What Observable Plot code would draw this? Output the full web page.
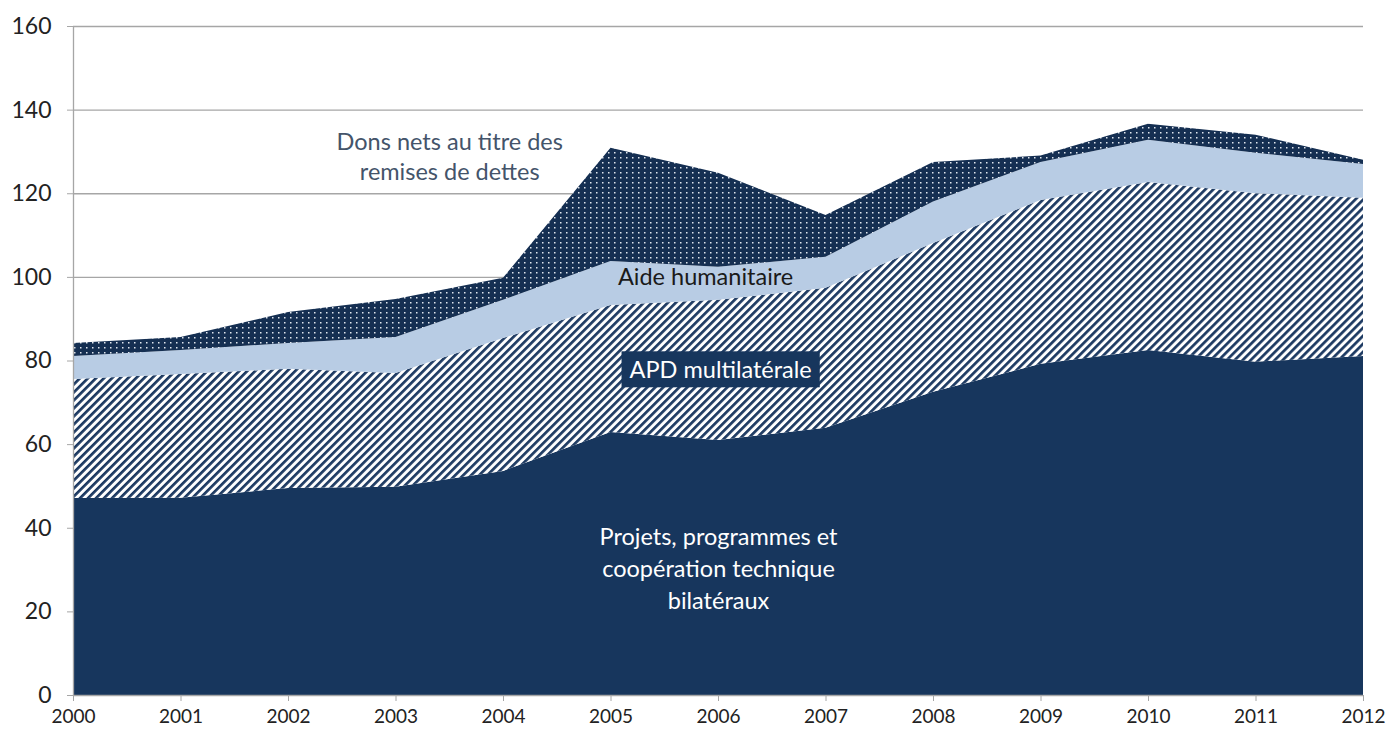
<!DOCTYPE html>
<html>
<head>
<meta charset="utf-8">
<script src="https://cdn.jsdelivr.net/npm/d3@7"></script>
<script src="https://cdn.jsdelivr.net/npm/@observablehq/plot@0.6"></script>
<style>
  html, body { margin: 0; padding: 0; background: #fff; }
  #chart svg { font-family: Lato, "Open Sans", "DejaVu Sans", sans-serif; }
</style>
</head>
<body>
<div id="chart"></div>
<script>
// ---- Data ----
const years = [2000, 2001, 2002, 2003, 2004, 2005, 2006, 2007, 2008, 2009, 2010, 2011, 2012];
const seriesNames = [
  "Projets, programmes et coopération technique bilatéraux",
  "APD multilatérale",
  "Aide humanitaire",
  "Dons nets au titre des remises de dettes"
];
const bilateral    = [47.1, 47.2, 49.5, 49.8, 53.6, 62.9, 61.0, 63.9, 72.5, 79.2, 82.5, 79.7, 81.1];
const multilateral = [28.5, 29.6, 28.5, 27.2, 31.8, 30.4, 33.5, 33.5, 35.6, 39.2, 40.2, 40.3, 37.8];
const humanitarian = [5.5, 5.7, 6.2, 8.6, 9.1, 10.5, 7.9, 7.4, 9.9, 9.1, 10.1, 9.7, 8.1];
const debtRelief   = [3.1, 3.1, 7.4, 9.1, 5.3, 27.1, 22.5, 10.0, 9.5, 1.5, 3.8, 4.3, 1.0];
const yTicks = [0, 20, 40, 60, 80, 100, 120, 140, 160];

// label positions in data units
const labels = [
  {text: "Dons nets au titre des\nremises de dettes", year: 2003.5, value: 129.2, color: "#44546a", cls: "lbl-debt", lh: 1.28},
  {text: "Aide humanitaire", year: 2005.88, value: 100.5, color: "#1a1a1a", cls: "lbl-hum", lh: 1.3},
  {text: "APD multilatérale", year: 2006.02, value: 78.2, color: "#ffffff", cls: "lbl-apd", lh: 1.3},
  {text: "Projets, programmes et\ncoopération technique\nbilatéraux", year: 2006.0, value: 30.7, color: "#ffffff", cls: "lbl-bil", lh: 1.36}
];

const seriesValues = [bilateral, multilateral, humanitarian, debtRelief];
const data = years.flatMap((year, i) =>
  seriesNames.map((series, s) => ({year, series, value: seriesValues[s][i]}))
);

const navy = "#17365d";
const fills = [navy, "url(#hatch)", "#b8cce4", "url(#dots)"];
const gridColor = "#a6a6a6";

const chart = Plot.plot({
  width: 1386,
  height: 729,
  marginLeft: 73,
  marginRight: 23,
  marginTop: 26,
  marginBottom: 34,
  x: {domain: [2000, 2012], label: null},
  y: {domain: [0, 160], label: null},
  color: {domain: seriesNames, range: fills},
  marks: [
    Plot.ruleY(yTicks.slice(1), {stroke: gridColor, strokeWidth: 1.3}),
    Plot.areaY(data, {x: "year", y: "value", fill: "series", order: seriesNames, curve: "linear"}),
    Plot.ruleY([0], {stroke: gridColor, strokeWidth: 1.3}),
    Plot.ruleX([2000], {stroke: gridColor, strokeWidth: 1.3}),
    Plot.axisX({ticks: years, tickFormat: d => String(d), tickSize: 6, tickPadding: 8,
      fontSize: 19, stroke: gridColor, fill: "#222", label: null}),
    Plot.axisY({ticks: yTicks, tickSize: 6, tickPadding: 16,
      fontSize: 23, stroke: gridColor, fill: "#222", label: null}),
    ...labels.map(l => Plot.text([l], {
      x: "year", y: "value", text: "text", fill: l.color,
      fontSize: 23.5, lineHeight: l.lh,
      textAnchor: "middle", className: l.cls
    }))
  ]
});

document.getElementById("chart").appendChild(chart);

// pattern definitions
const svg = d3.select(chart);
const defs = svg.insert("defs", ":first-child");
const hatch = defs.append("pattern")
  .attr("id", "hatch").attr("patternUnits", "userSpaceOnUse")
  .attr("width", 5.66).attr("height", 5.66)
  .attr("patternTransform", "rotate(45)");
hatch.append("rect").attr("width", 5.66).attr("height", 5.66).attr("fill", "#ffffff");
hatch.append("rect").attr("width", 2.7).attr("height", 5.66).attr("fill", "#1d3a62");

const dots = defs.append("pattern")
  .attr("id", "dots").attr("patternUnits", "userSpaceOnUse")
  .attr("width", 6).attr("height", 5);
dots.append("rect").attr("width", 6).attr("height", 5).attr("fill", "#152f52");
dots.append("rect").attr("x", 2).attr("y", 2).attr("width", 1.5).attr("height", 1.5).attr("fill", "#e0e6ee");

// dark box behind "APD multilatérale"
const apd = svg.select("g.lbl-apd text");
if (!apd.empty()) {
  const node = apd.node();
  const bb = node.getBBox();
  const padX = 8, padY = 5;
  svg.select("g.lbl-apd").insert("rect", ":first-child")
    .attr("transform", node.getAttribute("transform"))
    .attr("x", bb.x - padX).attr("y", bb.y - padY + 1)
    .attr("width", bb.width + 2 * padX).attr("height", bb.height + 2 * padY - 2)
    .attr("fill", navy);
}
</script>
</body>
</html>
